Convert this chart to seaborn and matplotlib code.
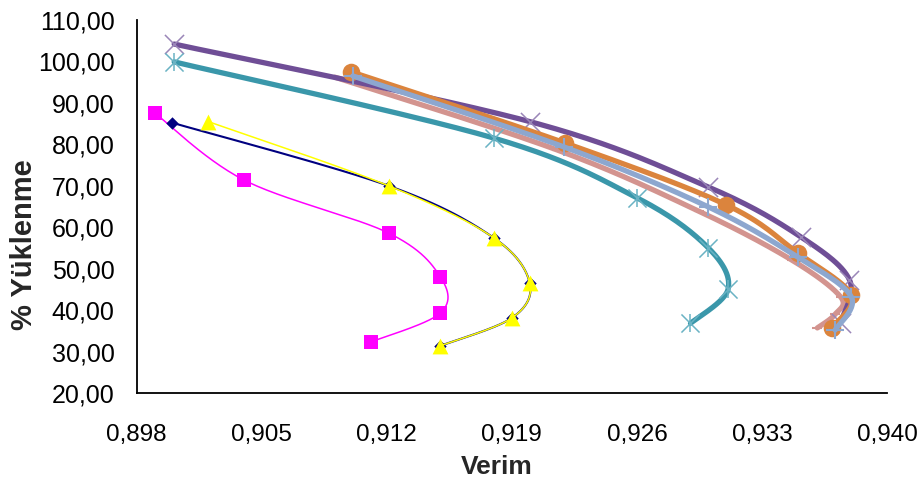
import numpy as np
import pandas as pd
import matplotlib
matplotlib.use("Agg")
import matplotlib.pyplot as plt
import seaborn as sns

# ---- data ----
mag_x = [0.8990, 0.9040, 0.9121, 0.9150, 0.9150, 0.9111]
mag_y = [87.6, 71.4, 58.6, 48.0, 39.3, 32.3]

navy_x = [0.9000, 0.9121, 0.9180, 0.9200, 0.9190, 0.9150]
navy_y = [85.2, 70.0, 57.4, 46.5, 38.1, 31.4]

yel_x = [0.9020, 0.9121, 0.9180, 0.9200, 0.9190, 0.9150]
yel_y = [85.5, 70.0, 57.4, 46.5, 38.1, 31.4]

pink_x = [0.9091, 0.9215, 0.9295, 0.9347, 0.9374, 0.9371, 0.9361]
pink_y = [96.2, 78.7, 63.8, 52.0, 43.2, 39.0, 35.7]

pur_x = [0.9001, 0.9200, 0.9300, 0.9352, 0.9379, 0.9374]
pur_y = [104.2, 85.5, 69.7, 57.6, 47.3, 37.0]

teal_x = [0.9001, 0.9180, 0.9260, 0.9300, 0.9311, 0.9290]
teal_y = [99.9, 81.5, 67.1, 55.0, 45.0, 36.8]

ora_x = [0.9100, 0.9220, 0.9310, 0.9350, 0.9380, 0.9369]
ora_y = [97.5, 80.3, 65.4, 53.8, 43.6, 35.7]

lb_x = [0.9101, 0.9219, 0.9300, 0.9350, 0.9380, 0.9371]
lb_y = [96.5, 79.4, 64.9, 52.8, 43.2, 35.2]

x_ticks = [0.898, 0.905, 0.912, 0.919, 0.926, 0.933, 0.940]
y_ticks = [20, 30, 40, 50, 60, 70, 80, 90, 100, 110]
x_label = "Verim"
y_label = "% Yüklenme"


def smooth(xs, ys, n=30):
    """Catmull-Rom style smoothing (like Excel's smoothed line)."""
    P = np.column_stack([xs, ys]).astype(float)
    P = np.vstack([P[0], P, P[-1]])
    out = []
    t = np.linspace(0, 1, n)
    for i in range(1, len(P) - 2):
        p0, p1, p2, p3 = P[i - 1], P[i], P[i + 1], P[i + 2]
        c1 = p1 + (p2 - p0) / 6.0
        c2 = p2 - (p3 - p1) / 6.0
        seg = ((1 - t) ** 3)[:, None] * p1 + (3 * (1 - t) ** 2 * t)[:, None] * c1 \
            + (3 * (1 - t) * t ** 2)[:, None] * c2 + (t ** 3)[:, None] * p2
        out.append(seg if i == 1 else seg[1:])
    S = np.vstack(out)
    return S[:, 0], S[:, 1]


sns.set_theme(style="white")
plt.rcParams["font.family"] = ["Liberation Sans", "DejaVu Sans"]

fig = plt.figure(figsize=(9.23, 4.86), dpi=100)
ax = fig.add_axes([0.1481, 0.1914, 0.961 - 0.1481, 0.9588 - 0.1914])

series = [
    # x, y, line colour, lw, marker, marker colour, size, marker lw, zorder
    (mag_x, mag_y, "#FF00FF", 1.1, "s", "#FF00FF", 95, 0, 3),
    (navy_x, navy_y, "#000080", 1.5, "D", "#000080", 40, 0, 4),
    (yel_x, yel_y, "#FFFF00", 1.1, "^", "#FFFF00", 130, 0, 5),
    (pink_x, pink_y, "#D3948F", 3.8, "_", "#D3948F", 60, 1.5, 6),
    (pur_x, pur_y, "#6F4E96", 3.8, "x", "#9A86B8", 190, 1.1, 7),
    (teal_x, teal_y, "#3A97AA", 3.8, "x", "#6AB3C4", 170, 1.1, 8),
    (ora_x, ora_y, "#DB843D", 3.8, "o", "#DB843D", 160, 0, 9),
    (lb_x, lb_y, "#8DA7CF", 3.8, "+", "#8DA7CF", 170, 1.5, 10),
]

for xs, ys, lc, lw, mk, mc, ms, mlw, z in series:
    sx, sy = smooth(xs, ys)
    sns.lineplot(x=sx, y=sy, sort=False, estimator=None, color=lc, lw=lw,
                 ax=ax, zorder=z, legend=False)
    if mk in ("x", "+", "_"):
        sns.scatterplot(x=xs, y=ys, marker=mk, color=mc, s=ms, linewidth=mlw,
                        ax=ax, zorder=z + 0.5, legend=False)
    else:
        sns.scatterplot(x=xs, y=ys, marker=mk, color=mc, s=ms, linewidth=0,
                        edgecolor=mc, ax=ax, zorder=z + 0.5, legend=False)

# asterisk: add vertical bar to teal x markers
sns.scatterplot(x=teal_x, y=teal_y, marker="|", color="#6AB3C4", s=170,
                linewidth=1.1, ax=ax, zorder=8.5, legend=False)

ax.set_xlim(0.898, 0.940)
ax.set_ylim(20, 110)
ax.set_xticks(x_ticks)
ax.set_yticks(y_ticks)
ax.set_xticklabels([f"{v:.3f}".replace(".", ",") for v in x_ticks])
ax.set_yticklabels([f"{v:.2f}".replace(".", ",") for v in y_ticks])
ax.tick_params(axis="both", direction="out", length=6, width=1.2,
               labelsize=18, colors="black")
ax.tick_params(axis="y", pad=10)
ax.tick_params(axis="x", pad=16, labelsize=17.5)
for s in ["top", "right"]:
    ax.spines[s].set_visible(False)
for s in ["left", "bottom"]:
    ax.spines[s].set_color("black")
    ax.spines[s].set_linewidth(1.3)
ax.grid(False)

ax.set_xlabel(x_label, fontsize=19, fontweight="bold")
ax.set_ylabel(y_label, fontsize=21, fontweight="bold")
ax.xaxis.set_label_coords(0.480, -0.165)
ax.yaxis.set_label_coords(-0.132, 0.397)

fig.savefig("out.png", dpi=100)
